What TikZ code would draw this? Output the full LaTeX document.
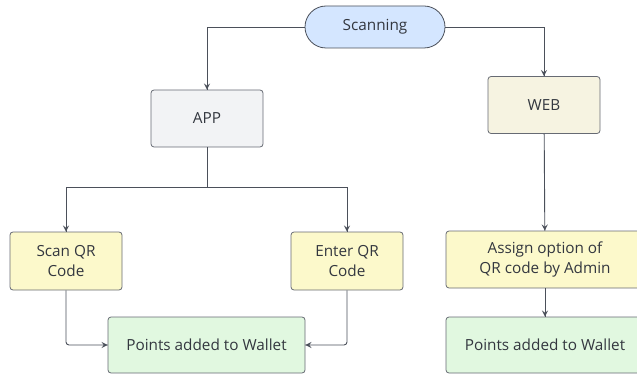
\documentclass[tikz,border=0pt]{standalone}
\usepackage{fontspec}
\setmainfont{Open Sans}
\usepackage{tikz}
\usetikzlibrary{shapes,arrows}
\usetikzlibrary{arrows,decorations.markings}
\definecolor{lineColor}{HTML}{4B505A}
\definecolor{textColor}{HTML}{33373F}
\definecolor{startColor}{HTML}{D4E6FF}
\definecolor{appColor}{HTML}{F2F3F5}
\definecolor{webColor}{HTML}{F6F3E1}
\definecolor{stepColor}{HTML}{FCF9CB}
\definecolor{walletColor}{HTML}{E1F8E0}
\tikzstyle{pill}=[rectangle, rounded corners=21pt, minimum width=140pt, minimum height=42pt, text centered, draw=lineColor, line width=0.8pt, fill=startColor]
\tikzstyle{roundrect}=[rectangle, rounded corners=3pt, minimum width=112pt, minimum height=57pt, align=center, draw=lineColor!85, line width=0.8pt, fill=appColor]
\tikzstyle{widerect}=[roundrect, minimum width=198pt, minimum height=56pt]
\tikzstyle{arrow} = [draw=lineColor, line width=0.9pt, decoration={markings,mark=at position 1 with
	{\arrow[scale=1.4,>=stealth]{>}}},postaction={decorate}]

\begin{document}
\begin{tikzpicture}[x=1pt, y=-1pt, font=\fontsize{15.3}{19.5}\selectfont\color{textColor}]
			\useasboundingbox (0,0) rectangle (637,374);
			\node (scanning) [pill] at (375,27) {Scanning};
			
			\node (app) [roundrect] at (207,118.5) {APP};
			\node (web) [roundrect, fill=webColor] at (544,105) {WEB};
			
			\coordinate (split) at (207,187);
			\node (scan qr) [roundrect, fill=stepColor, minimum height=58pt] at (66,261) {Scan QR\\Code};
			\node (enter qr) [roundrect, fill=stepColor, minimum height=58pt] at (347,261) {Enter QR\\Code};
			\node (assign) [widerect, fill=stepColor, minimum height=57pt] at (545,259.5) {Assign option of\\QR code by Admin};
			
			\node (wallet app) [widerect, minimum width=197pt, fill=walletColor] at (206.5,345) {Points added to Wallet};
			\node (wallet web) [widerect, fill=walletColor] at (545,345) {Points added to Wallet};
			
			
			\draw [arrow] (scanning) -| (app);
			\draw [arrow] (scanning) -| (web);
			\draw [draw=lineColor, line width=0.9pt] (app) -- (split);
			\draw [arrow] (split) -| (scan qr);
			\draw [arrow] (split) -| (enter qr);
			\draw [arrow] (web) -- (assign);
			\draw [arrow, rounded corners=3pt] (scan qr) |- (wallet app);
			\draw [arrow, rounded corners=3pt] (enter qr) |- (wallet app);
			\draw [arrow] (assign) -- (wallet web);
			
			\end{tikzpicture}
\end{document}
